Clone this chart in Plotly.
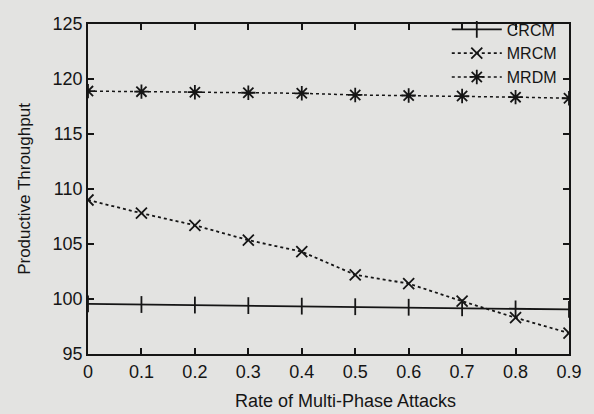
import plotly.graph_objects as go

x = [0, 0.1, 0.2, 0.3, 0.4, 0.5, 0.6, 0.7, 0.8, 0.9]
x_ticktext = ["0", "0.1", "0.2", "0.3", "0.4", "0.5", "0.6", "0.7", "0.8", "0.9"]
crcm = [99.55, 99.5, 99.45, 99.4, 99.35, 99.3, 99.25, 99.2, 99.1, 99.05]
mrcm = [109.0, 107.8, 106.7, 105.35, 104.3, 102.2, 101.4, 99.8, 98.3, 96.9]
mrdm = [118.9, 118.85, 118.8, 118.75, 118.7, 118.55, 118.5, 118.45, 118.35, 118.25]

ink = "#151515"
font = "Liberation Sans, Arial, sans-serif"

fig = go.Figure()
fig.add_trace(go.Scatter(x=x, y=crcm, name="CRCM", mode="lines+markers",
                         line=dict(color=ink, width=1.8),
                         marker=dict(symbol="line-ns-open", size=12, line=dict(color=ink, width=1.8))))
fig.add_trace(go.Scatter(x=x, y=mrcm, name="MRCM", mode="lines+markers",
                         line=dict(color=ink, width=1.8, dash="dot"),
                         marker=dict(symbol="x-thin-open", size=11, line=dict(color=ink, width=1.8))))
fig.add_trace(go.Scatter(x=x, y=mrdm, name="MRDM", mode="lines+markers",
                         line=dict(color=ink, width=1.5, dash="dot"),
                         marker=dict(symbol="asterisk-open", size=12, line=dict(color=ink, width=1.8))))

axis_common = dict(showline=True, linecolor=ink, linewidth=1.8, mirror="allticks",
                   ticks="inside", ticklen=6, tickwidth=1.5, tickcolor=ink,
                   showgrid=False, zeroline=False,
                   tickfont=dict(family=font, size=18, color=ink))

fig.update_xaxes(range=[0, 0.9], tickvals=x, ticktext=x_ticktext, **axis_common)
fig.update_yaxes(range=[95, 125], dtick=5,
                 title=dict(text="Productive Throughput", font=dict(family=font, size=17, color=ink), standoff=18),
                 **axis_common)

fig.add_annotation(text="Rate of Multi-Phase Attacks", xref="paper", yref="paper",
                   x=0.535, y=-0.105, xanchor="center", yanchor="top", showarrow=False,
                   font=dict(family=font, size=18, color=ink))

fig.update_layout(
    width=594, height=414,
    margin=dict(l=88, r=20, t=14, b=60),
    paper_bgcolor="#e3e3e1", plot_bgcolor="#e3e3e1",
    showlegend=True,
    legend=dict(x=0.985, y=1.035, xanchor="right", yanchor="top", bgcolor="rgba(0,0,0,0)",
                font=dict(family=font, size=16, color=ink), itemwidth=50, tracegroupgap=0),
)

fig.write_html("out.html")
